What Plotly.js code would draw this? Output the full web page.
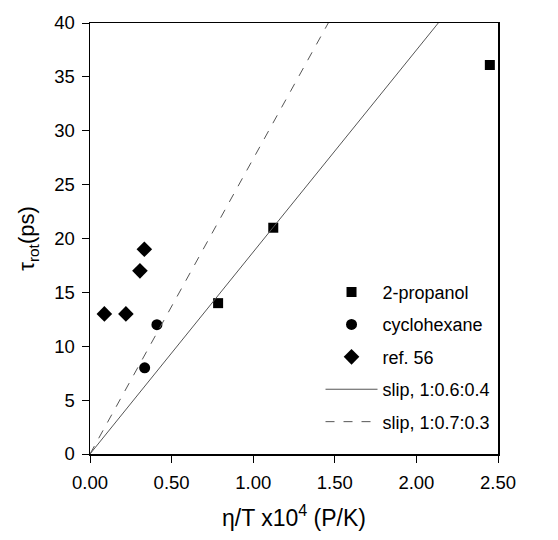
<!DOCTYPE html>
<html>
<head>
<meta charset="utf-8">
<script src="https://cdn.plot.ly/plotly-3.0.1.min.js"></script>
<style>html,body{margin:0;padding:0;background:#fff;}</style>
</head>
<body>
<div id="chart" style="width:558px;height:540px;"></div>
<script>
// 2-propanol
const propX = [0.785, 1.123, 2.45];
const propY = [14, 21, 36.1];
// cyclohexane
const cycX = [0.335, 0.41];
const cycY = [8, 12];
// ref. 56
const refX = [0.088, 0.22, 0.306, 0.333];
const refY = [13, 13, 17, 19];
// slip lines
const slip1X = [0, 2.134];
const slip1Y = [0, 40];
const slip2X = [0, 1.46];
const slip2Y = [0, 40];

const names = ['2-propanol', 'cyclohexane', 'ref. 56', 'slip, 1:0.6:0.4', 'slip, 1:0.7:0.3'];

const traces = [
  {x: propX, y: propY, mode: 'markers', type: 'scatter', name: names[0], legendgroup: 'a',
   marker: {symbol: 'square', size: 10, color: '#000'}},
  {x: cycX, y: cycY, mode: 'markers', type: 'scatter', name: names[1], legendgroup: 'b',
   marker: {symbol: 'circle', size: 11, color: '#000'}},
  {x: refX, y: refY, mode: 'markers', type: 'scatter', name: names[2], legendgroup: 'c',
   marker: {symbol: 'diamond', size: 12, color: '#000'}},
  {x: slip1X, y: slip1Y, mode: 'lines', type: 'scatter', name: names[3], legendgroup: 'd',
   line: {color: '#555', width: 1}},
  {x: slip2X, y: slip2Y, mode: 'lines', type: 'scatter', name: names[4], legendgroup: 'e',
   line: {color: '#555', width: 1, dash: 'dash'}}
];

const layout = {
  width: 558, height: 540,
  margin: {l: 90, r: 60, t: 23, b: 86},
  paper_bgcolor: '#fff', plot_bgcolor: '#fff',
  font: {family: 'Liberation Sans, Arial, sans-serif', color: '#000', size: 18},
  showlegend: true,
  legend: {x: 0.565, y: 0.418, xanchor: 'left', yanchor: 'top', bgcolor: 'rgba(0,0,0,0)',
           font: {size: 18}, tracegroupgap: 6, itemwidth: 52},
  xaxis: {
    range: [0, 2.5], dtick: 0.5, tick0: 0, tickformat: '.2f',
    showgrid: false, zeroline: false,
    showline: true, linecolor: '#000', linewidth: 1.5, mirror: true,
    ticks: 'outside', ticklen: 7, tickcolor: '#000', tickwidth: 1,
    ticklabelstandoff: 4,
    tickfont: {size: 18.5},
    title: {text: 'η/T x10<sup>4</sup> (P/K)', font: {size: 23}, standoff: 18}
  },
  yaxis: {
    range: [0, 40], dtick: 5, tick0: 0,
    showgrid: false, zeroline: false,
    showline: true, linecolor: '#000', linewidth: 1.5, mirror: true,
    ticks: 'outside', ticklen: 7, tickcolor: '#000', tickwidth: 1,
    ticklabelstandoff: 3,
    tickfont: {size: 18.5},
    title: {text: 'τ<sub>rot</sub>(ps)', font: {size: 22}, standoff: 13}
  }
};

Plotly.newPlot('chart', traces, layout, {displayModeBar: false, staticPlot: true});
</script>
</body>
</html>
